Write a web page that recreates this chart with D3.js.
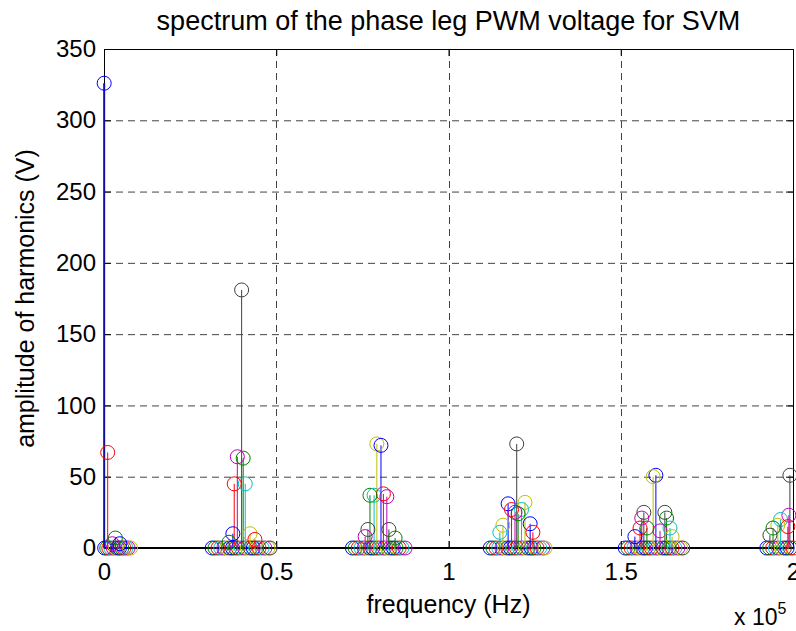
<!DOCTYPE html>
<html>
<head>
<meta charset="utf-8">
<script src="https://cdn.jsdelivr.net/npm/d3@7"></script>
<style>
  body { margin: 0; background: #fff; }
  text { font-family: "Liberation Sans", Arial, sans-serif; fill: #000; }
</style>
</head>
<body>
<svg id="chart" width="796" height="631"></svg>
<script>
// matlab colour order b g r c m y k
var colorOrder = ['#0000ff', '#008000', '#ff0000', '#00bfbf', '#bf00bf', '#bfbf00', '#404040'];
var seriesNames = ['b', 'g', 'r', 'c', 'm', 'y', 'k'];

// harmonics: [frequency Hz, amplitude V, series]
var peaks0 = [[50, 326, 'b'], [1070, 67, 'r'], [3300, 7, 'g'], [2400, 3, 'm'], [4600, 3, 'b']];
var peaks1 = [[39950, 181, 'k'], [38700, 64, 'm'], [40400, 63, 'g'], [37800, 45, 'r'], [41000, 45, 'c'],
              [37400, 10, 'b'], [42400, 10, 'y'], [43800, 6, 'r'], [36300, 4, 'g']];
var peaks2 = [[79200, 73, 'y'], [80400, 72, 'b'], [77200, 37, 'g'], [78400, 37, 'c'], [81100, 38, 'r'],
              [82100, 36, 'm'], [76600, 13, 'k'], [82700, 13, 'k'], [75800, 8, 'm'], [84500, 7, 'g']];
var peaks3 = [[119800, 73, 'k'], [117300, 31, 'b'], [122200, 32, 'y'], [118300, 27, 'r'], [121200, 27, 'c'],
              [119300, 25, 'm'], [120200, 24, 'g'], [115800, 16, 'y'], [123700, 17, 'b'], [114900, 11, 'c'],
              [124500, 11, 'r']];
var peaks4 = [[159400, 50, 'y'], [160200, 51, 'b'], [156700, 25, 'k'], [162800, 25, 'k'], [156100, 21, 'm'],
              [163300, 21, 'g'], [155600, 14, 'r'], [164300, 14, 'c'], [157600, 14, 'g'], [161400, 12, 'm'],
              [154100, 8, 'b'], [164900, 8, 'y']];
var peaks5 = [[199100, 51, 'k'], [198800, 23, 'm'], [196400, 20, 'c'], [195600, 16, 'y'], [198500, 15, 'r'],
              [194200, 14, 'g'], [193300, 9, 'k']];

// near-zero harmonics of each cluster, kHz
var floor0 = [0.2, 0.8, 1.4, 2.0, 2.7, 3.3, 3.9, 4.5, 5.2, 5.8, 6.4, 7.0, 7.7];
var floor1 = [31.4, 32.2, 33.1, 33.9, 34.8, 35.6, 36.5, 37.3, 38.2, 39.0, 39.9, 40.8, 41.6, 42.5, 43.3,
              44.2, 45.0, 45.9, 46.7, 47.6, 48.2];
var floor2 = [72.1, 72.9, 73.8, 74.6, 75.5, 76.3, 77.2, 78.0, 78.9, 79.7, 80.6, 81.4, 82.3, 83.1, 84.0,
              84.8, 85.7, 86.5, 87.4];
var floor3 = [112.1, 112.9, 113.8, 114.6, 115.5, 116.3, 117.2, 118.0, 118.9, 119.7, 120.6, 121.4, 122.3,
              123.1, 124.0, 124.8, 125.7, 126.5, 127.4, 128.0];
var floor4 = [151.3, 152.1, 153.0, 153.8, 154.7, 155.5, 156.4, 157.2, 158.1, 158.9, 159.8, 160.6, 161.5,
              162.3, 163.2, 164.0, 164.9, 165.7, 166.6, 167.4, 168.0];
var floor5 = [192.4, 193.2, 194.1, 194.9, 195.8, 196.6, 197.5, 198.3, 199.2, 200.0];

var xTicks = [0, 50000, 100000, 150000, 200000];
var xTickLabels = ['0', '0.5', '1', '1.5', '2'];
var yTicks = [0, 50, 100, 150, 200, 250, 300, 350];

var margin = { left: 104, right: 3, top: 49, bottom: 83 };
var W = 796, H = 631;
var svg = d3.select('#chart');

var x = d3.scaleLinear().domain([0, 200000]).range([margin.left, W - margin.right]);
var y = d3.scaleLinear().domain([0, 350]).range([H - margin.bottom, margin.top]);
var color = d3.scaleOrdinal().domain(seriesNames).range(colorOrder);

// grid
var grid = svg.append('g').attr('stroke', '#444').attr('stroke-width', 1).attr('stroke-dasharray', '7,5');
grid.selectAll('line.gy').data(yTicks.slice(1, -1)).enter().append('line')
  .attr('x1', x(0)).attr('x2', x(200000))
  .attr('y1', function(d) { return y(d) + 0.5; }).attr('y2', function(d) { return y(d) + 0.5; });
grid.selectAll('line.gx').data(xTicks.slice(1, -1)).enter().append('line')
  .attr('y1', y(0)).attr('y2', y(350))
  .attr('x1', function(d) { return Math.round(x(d)) + 0.5; }).attr('x2', function(d) { return Math.round(x(d)) + 0.5; });

// axes with inward ticks on all four sides
var fs = '24px';
var axB = svg.append('g').attr('transform', 'translate(0,' + y(0) + ')')
  .call(d3.axisBottom(x).tickValues(xTicks).tickFormat(function(d, i) { return xTickLabels[i]; })
        .tickSizeInner(-7).tickSizeOuter(0).tickPadding(15));
var axT = svg.append('g').attr('transform', 'translate(0,' + y(350) + ')')
  .call(d3.axisTop(x).tickValues(xTicks).tickFormat('').tickSizeInner(-7).tickSizeOuter(0));
var axL = svg.append('g').attr('transform', 'translate(' + x(0) + ',0)')
  .call(d3.axisLeft(y).tickValues(yTicks).tickSizeInner(-7).tickSizeOuter(0).tickPadding(8));
var axR = svg.append('g').attr('transform', 'translate(' + x(200000) + ',0)')
  .call(d3.axisRight(y).tickValues(yTicks).tickFormat('').tickSizeInner(-7).tickSizeOuter(0));
[axB, axT, axL, axR].forEach(function(a) {
  a.select('.domain').attr('stroke', '#000');
  a.selectAll('.tick line').attr('stroke', '#000');
  a.selectAll('text').style('font-size', fs).style('font-family', '"Liberation Sans", Arial, sans-serif');
});

// floor circles
var floors = [floor0, floor1, floor2, floor3, floor4, floor5];
var floorPts = [];
floors.forEach(function(list) {
  list.forEach(function(k, i) { floorPts.push({ f: k * 1000, a: 0, s: seriesNames[i % 7] }); });
});

// stem baseline
svg.append('line').attr('x1', x(0)).attr('x2', x(200000)).attr('y1', y(0)).attr('y2', y(0))
  .attr('stroke', '#000').attr('stroke-width', 2);

svg.append('g').selectAll('circle').data(floorPts).enter().append('circle')
  .attr('cx', function(d) { return x(d.f); }).attr('cy', function(d) { return y(d.a); })
  .attr('r', 7).attr('fill', 'none').attr('stroke', function(d) { return color(d.s); });

var peakPts = [];
[peaks0, peaks1, peaks2, peaks3, peaks4, peaks5].forEach(function(list) {
  list.forEach(function(p) { peakPts.push({ f: p[0], a: p[1], s: p[2] }); });
});
peakPts.sort(function(a, b) { return b.a - a.a; });

var stems = svg.append('g');
stems.selectAll('line').data(peakPts).enter().append('line')
  .attr('x1', function(d) { return x(d.f); }).attr('x2', function(d) { return x(d.f); })
  .attr('y1', y(0)).attr('y2', function(d) { return y(d.a); })
  .attr('stroke', function(d) { return d.a > 300 ? '#1010a0' : color(d.s); })
  .attr('stroke-width', function(d) { return d.a > 300 ? 2 : 1; });
stems.selectAll('circle').data(peakPts).enter().append('circle')
  .attr('cx', function(d) { return x(d.f); }).attr('cy', function(d) { return y(d.a); })
  .attr('r', 7).attr('fill', 'none').attr('stroke', function(d) { return color(d.s); });

// titles
var cx = (x(0) + x(200000)) / 2;
svg.append('text').attr('x', cx).attr('y', 30).attr('text-anchor', 'middle')
  .style('font-size', '27px').text('spectrum of the phase leg PWM voltage for SVM');
svg.append('text').attr('x', cx).attr('y', 613).attr('text-anchor', 'middle')
  .style('font-size', '25px').text('frequency (Hz)');
svg.append('text').attr('transform', 'translate(34,' + (y(0) + y(350)) / 2 + ') rotate(-90)')
  .attr('text-anchor', 'middle').style('font-size', '25px').text('amplitude of harmonics (V)');
var mult = svg.append('text').attr('x', 734).attr('y', 625).style('font-size', '23px');
mult.append('tspan').text('x 10');
mult.append('tspan').attr('dy', -11).style('font-size', '16px').text('5');
</script>
</body>
</html>
